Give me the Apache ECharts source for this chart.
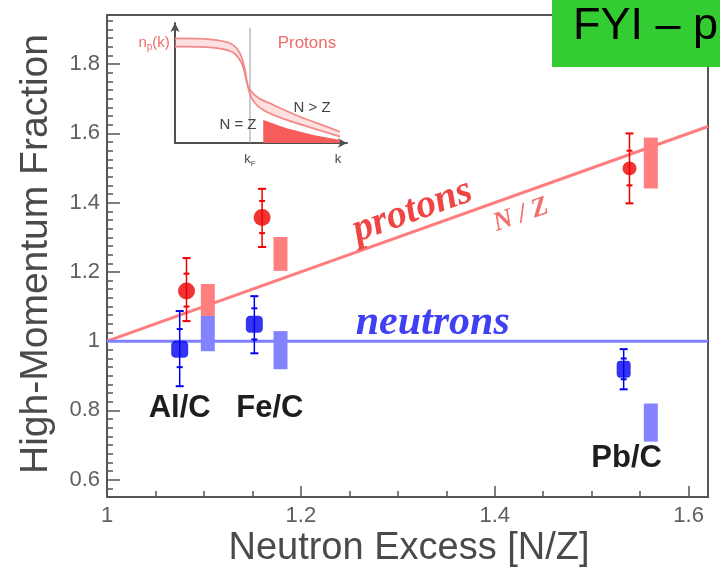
<!DOCTYPE html>
<html>
<head>
<meta charset="utf-8">
<script src="https://cdn.jsdelivr.net/npm/echarts@6/dist/echarts.min.js"></script>
<style>
  html, body { margin: 0; padding: 0; background: #fff; }
  #chart { width: 720px; height: 577px; }
</style>
</head>
<body>
<div id="chart"></div>
<script>
// Ratios to carbon for three targets, plotted against neutron excess N/Z
const nuclei = ['Al/C', 'Fe/C', 'Pb/C'];

// Protons: central values, total error, statistical error
const protonNZ = [1.082, 1.160, 1.539];
const protonFrac = [1.145, 1.357, 1.499];
const protonErrLow = [1.058, 1.272, 1.398];
const protonErrHigh = [1.240, 1.440, 1.600];
const protonStatLow = [1.100, 1.312, 1.450];
const protonStatHigh = [1.195, 1.405, 1.550];

// Neutrons: central values, total error, statistical error
const neutronNZ = [1.075, 1.152, 1.533];
const neutronFrac = [0.977, 1.049, 0.919];
const neutronErrLow = [0.870, 0.965, 0.861];
const neutronErrHigh = [1.087, 1.130, 0.977];
const neutronStatLow = [0.925, 1.005, 0.890];
const neutronStatHigh = [1.035, 1.095, 0.950];

// Systematic bands, drawn beside each point
const sysNZ = [1.104, 1.179, 1.561];
const protonSysLow = [1.073, 1.203, 1.441];
const protonSysHigh = [1.165, 1.301, 1.588];
const neutronSysLow = [0.971, 0.919, 0.710];
const neutronSysHigh = [1.073, 1.029, 0.820];

// Reference expectations: protons scale as N/Z, neutrons stay at 1
const refNZ = [1.0, 1.62];
const neutronRef = [1.0, 1.0];

// Axis ticks
const xTicks = [1, 1.2, 1.4, 1.6];
const yTicks = [0.6, 0.8, 1, 1.2, 1.4, 1.6, 1.8];

// Inset: schematic proton momentum distribution n_p(k)
const bandUpper = [[0, 0.872], [0.203, 0.864], [0.320, 0.831], [0.378, 0.747], [0.407, 0.608], [0.426, 0.469], [0.475, 0.386], [0.572, 0.317], [0.727, 0.219], [0.882, 0.136], [0.959, 0.094]];
const bandLower = [[0, 0.803], [0.203, 0.797], [0.330, 0.761], [0.388, 0.664], [0.417, 0.511], [0.446, 0.372], [0.513, 0.275], [0.649, 0.192], [0.804, 0.122], [0.959, 0.053]];
const tailFill = [[0.513, 0], [0.513, 0.192], [0.649, 0.122], [0.804, 0.067], [0.959, 0.025]];
const kFermi = [[0.436, 0], [0.436, 0.96]];

const SANS = '"Liberation Sans", Arial, sans-serif';
const SERIF = '"Liberation Serif", "Times New Roman", serif';
const FRAME = '#555';
const RED_LINE = '#ff7d7d';
const BLUE_LINE = '#7f7fff';
const RED_BOX = '#ff7f7f';
const BLUE_BOX = '#8383ff';
const RED_PT = '#ee0000';
const BLUE_PT = '#0000ee';

const chart = echarts.init(document.getElementById('chart'));

function boxRenderer(color) {
  return function (params, api) {
    const top = api.coord([api.value(0), api.value(2)]);
    const bot = api.coord([api.value(0), api.value(1)]);
    return {
      type: 'rect',
      shape: { x: top[0] - 7, y: top[1], width: 14, height: bot[1] - top[1] },
      style: { fill: color }
    };
  };
}

function errorRenderer(color) {
  return function (params, api) {
    const x = api.value(0);
    const hi = api.coord([x, api.value(2)]);
    const lo = api.coord([x, api.value(1)]);
    const sHi = api.coord([x, api.value(4)]);
    const sLo = api.coord([x, api.value(3)]);
    const cap = (p, w) => ({
      type: 'line',
      shape: { x1: p[0] - w, y1: p[1], x2: p[0] + w, y2: p[1] },
      style: { stroke: color, lineWidth: 2 }
    });
    return {
      type: 'group',
      children: [
        { type: 'line', shape: { x1: hi[0], y1: hi[1], x2: lo[0], y2: lo[1] }, style: { stroke: color, lineWidth: 1.5 } },
        cap(hi, 4), cap(lo, 4), cap(sHi, 3), cap(sLo, 3)
      ]
    };
  };
}

const axisOff = { axisLine: { show: false }, splitLine: { show: false } };

const option = {
  animation: false,
  backgroundColor: '#fff',
  grid: [
    { left: 107, top: 15, right: 12, bottom: 80, show: true, borderColor: FRAME, borderWidth: 2, backgroundColor: 'transparent' },
    { left: 175, top: 23, width: 172, height: 120 }
  ],
  xAxis: [
    {
      gridIndex: 0, type: 'value', min: 1, max: 1.62, interval: 0.05, ...axisOff,
      axisTick: { inside: true, length: 6, lineStyle: { color: FRAME, width: 1.5 } },
      axisLabel: { customValues: xTicks, formatter: v => String(v), margin: 8, fontSize: 22, color: '#606060', fontFamily: SANS }
    },
    {
      gridIndex: 0, type: 'value', position: 'bottom', min: 1, max: 1.62, ...axisOff,
      axisTick: { inside: true, length: 11, customValues: xTicks, lineStyle: { color: FRAME, width: 1.5 } },
      axisLabel: { show: false }
    },
    {
      gridIndex: 1, type: 'value', min: 0, max: 1, splitLine: { show: false },
      axisLine: { show: true, symbol: ['none', 'arrow'], symbolSize: [7, 9], lineStyle: { color: '#505050', width: 2 } },
      axisTick: { show: false }, axisLabel: { show: false }
    }
  ],
  yAxis: [
    {
      gridIndex: 0, type: 'value', min: 0.55, max: 1.942, interval: 0.025, ...axisOff,
      axisTick: { inside: true, length: 6, lineStyle: { color: FRAME, width: 1.5 } },
      axisLabel: { customValues: yTicks, formatter: v => String(v), margin: 7, fontSize: 22, color: '#606060', fontFamily: SANS }
    },
    {
      gridIndex: 0, type: 'value', position: 'left', min: 0.55, max: 1.942, ...axisOff,
      axisTick: { inside: true, length: 13, customValues: yTicks, lineStyle: { color: FRAME, width: 1.5 } },
      axisLabel: { show: false }
    },
    {
      gridIndex: 1, type: 'value', min: 0, max: 1, splitLine: { show: false },
      axisLine: { show: true, symbol: ['none', 'arrow'], symbolSize: [7, 9], lineStyle: { color: '#505050', width: 2 } },
      axisTick: { show: false }, axisLabel: { show: false }
    }
  ],
  series: [
    {
      name: 'protons N/Z', type: 'line', xAxisIndex: 0, yAxisIndex: 0, symbol: 'none', z: 2,
      data: refNZ.map(v => [v, v]),
      lineStyle: { color: RED_LINE, width: 3 }
    },
    {
      name: 'neutrons', type: 'line', xAxisIndex: 0, yAxisIndex: 0, symbol: 'none', z: 2,
      data: refNZ.map((v, i) => [v, neutronRef[i]]),
      lineStyle: { color: BLUE_LINE, width: 3 }
    },
    {
      name: 'proton sys', type: 'custom', xAxisIndex: 0, yAxisIndex: 0, z: 3,
      renderItem: boxRenderer(RED_BOX),
      data: nuclei.map((_, i) => [sysNZ[i], protonSysLow[i], protonSysHigh[i]])
    },
    {
      name: 'neutron sys', type: 'custom', xAxisIndex: 0, yAxisIndex: 0, z: 3,
      renderItem: boxRenderer(BLUE_BOX),
      data: nuclei.map((_, i) => [sysNZ[i], neutronSysLow[i], neutronSysHigh[i]])
    },
    {
      name: 'proton err', type: 'custom', xAxisIndex: 0, yAxisIndex: 0, z: 4,
      renderItem: errorRenderer(RED_PT),
      data: nuclei.map((_, i) => [protonNZ[i], protonErrLow[i], protonErrHigh[i], protonStatLow[i], protonStatHigh[i]])
    },
    {
      name: 'neutron err', type: 'custom', xAxisIndex: 0, yAxisIndex: 0, z: 4,
      renderItem: errorRenderer(BLUE_PT),
      data: nuclei.map((_, i) => [neutronNZ[i], neutronErrLow[i], neutronErrHigh[i], neutronStatLow[i], neutronStatHigh[i]])
    },
    {
      name: 'protons', type: 'scatter', xAxisIndex: 0, yAxisIndex: 0, z: 5,
      symbol: 'circle', symbolSize: (v, p) => (p.dataIndex === 2 ? 14 : 17),
      itemStyle: { color: RED_PT },
      data: nuclei.map((_, i) => [protonNZ[i], protonFrac[i]])
    },
    {
      name: 'neutrons pts', type: 'scatter', xAxisIndex: 0, yAxisIndex: 0, z: 5,
      symbol: 'roundRect', symbolSize: (v, p) => (p.dataIndex === 2 ? [14, 17] : 17),
      itemStyle: { color: BLUE_PT },
      data: nuclei.map((_, i) => [neutronNZ[i], neutronFrac[i]])
    },
    {
      name: 'inset band', type: 'custom', xAxisIndex: 2, yAxisIndex: 2, z: 6,
      data: [[0, 0]],
      renderItem: function (params, api) {
        const up = bandUpper.map(p => api.coord(p));
        const lo = bandLower.map(p => api.coord(p));
        return {
          type: 'group',
          children: [
            { type: 'polygon', shape: { points: up.concat(lo.slice().reverse()) }, style: { fill: 'rgba(248,170,170,0.35)', stroke: null } },
            { type: 'polyline', shape: { points: up, smooth: 0.3 }, style: { stroke: '#f38a8a', lineWidth: 1.8, fill: null } },
            { type: 'polyline', shape: { points: lo, smooth: 0.3 }, style: { stroke: '#f38a8a', lineWidth: 1.8, fill: null } }
          ]
        };
      }
    },
    {
      name: 'inset tail', type: 'line', xAxisIndex: 2, yAxisIndex: 2, z: 5, symbol: 'none',
      data: tailFill, lineStyle: { width: 0 },
      areaStyle: { color: '#f65c5c', opacity: 1 }
    },
    {
      name: 'inset kF', type: 'line', xAxisIndex: 2, yAxisIndex: 2, z: 4, symbol: 'none',
      data: kFermi, lineStyle: { color: '#9a9a9a', width: 1 }
    }
  ]
};

chart.setOption(option);

// Annotations placed in data coordinates of the main plot and the inset
const mainPx = pt => chart.convertToPixel({ xAxisIndex: 0, yAxisIndex: 0 }, pt);
const insetPx = pt => chart.convertToPixel({ xAxisIndex: 2, yAxisIndex: 2 }, pt);
const a = mainPx([refNZ[0], refNZ[0]]);
const b = mainPx([refNZ[1], refNZ[1]]);
const slope = Math.atan2(a[1] - b[1], b[0] - a[0]);

function label(p, text, font, fill, rotation) {
  return {
    type: 'text', x: p[0], y: p[1], rotation: rotation || 0, z: 20,
    style: { text: text, font: font, fill: fill, align: 'center', verticalAlign: 'middle' }
  };
}

const npPos = insetPx([-0.03, 0.833]);
const kfPos = insetPx([0.436, -0.14]);

const graphics = [
  label(mainPx([1.315, 1.376]), 'protons', 'italic bold 40px ' + SERIF, '#f04545', slope),
  label(mainPx([1.427, 1.364]), 'N / Z', 'italic bold 27px ' + SERIF, '#f27070', slope),
  label(mainPx([1.336, 1.052]), 'neutrons', 'italic bold 42px ' + SERIF, '#4040f2', 0),
  label(mainPx([1.075, 0.806]), nuclei[0], 'bold 31px ' + SANS, '#1e1e1e', 0),
  label(mainPx([1.168, 0.806]), nuclei[1], 'bold 31px ' + SANS, '#1e1e1e', 0),
  label(mainPx([1.536, 0.662]), nuclei[2], 'bold 31px ' + SANS, '#1e1e1e', 0),
  // inset texts
  {
    type: 'text', x: npPos[0], y: npPos[1], z: 20,
    style: {
      text: '{n|n}{s|p}{n|(k)}', align: 'right', verticalAlign: 'middle',
      rich: { n: { font: '15px ' + SANS, fill: '#f06a6a' }, s: { font: '10px ' + SANS, fill: '#f06a6a', padding: [8, 0, 0, 0] } }
    }
  },
  label(insetPx([0.767, 0.833]), 'Protons', '17px ' + SANS, '#f06a6a', 0),
  label(insetPx([0.366, 0.15]), 'N = Z', '15px ' + SANS, '#444', 0),
  label(insetPx([0.797, 0.29]), 'N > Z', '15px ' + SANS, '#444', 0),
  {
    type: 'text', x: kfPos[0], y: kfPos[1], z: 20,
    style: {
      text: '{n|k}{s|F}', align: 'center', verticalAlign: 'middle',
      rich: { n: { font: '13px ' + SANS, fill: '#444' }, s: { font: '8px ' + SANS, fill: '#444', padding: [7, 0, 0, 0] } }
    }
  },
  label(insetPx([0.948, -0.14]), 'k', '13px ' + SANS, '#444', 0),
  // axis titles
  { type: 'text', x: 36, y: 254, rotation: Math.PI / 2, z: 20,
    style: { text: 'High-Momentum Fraction', font: '39px ' + SANS, fill: '#4a4a4a', align: 'center', verticalAlign: 'middle' } },
  { type: 'text', x: 409, y: 549, z: 20,
    style: { text: 'Neutron Excess [N/Z]', font: '38px ' + SANS, fill: '#4a4a4a', align: 'center', verticalAlign: 'middle' } },
  // slide banner in the corner
  { type: 'rect', x: 552, y: 0, z: 30, shape: { width: 168, height: 67 }, style: { fill: '#33cc33' } },
  { type: 'text', x: 573, y: 27, z: 31,
    style: { text: 'FYI \u2013 p', font: '45px ' + SANS, fill: '#000', align: 'left', verticalAlign: 'middle' } }
];

chart.setOption({ graphic: graphics });
</script>
</body>
</html>
